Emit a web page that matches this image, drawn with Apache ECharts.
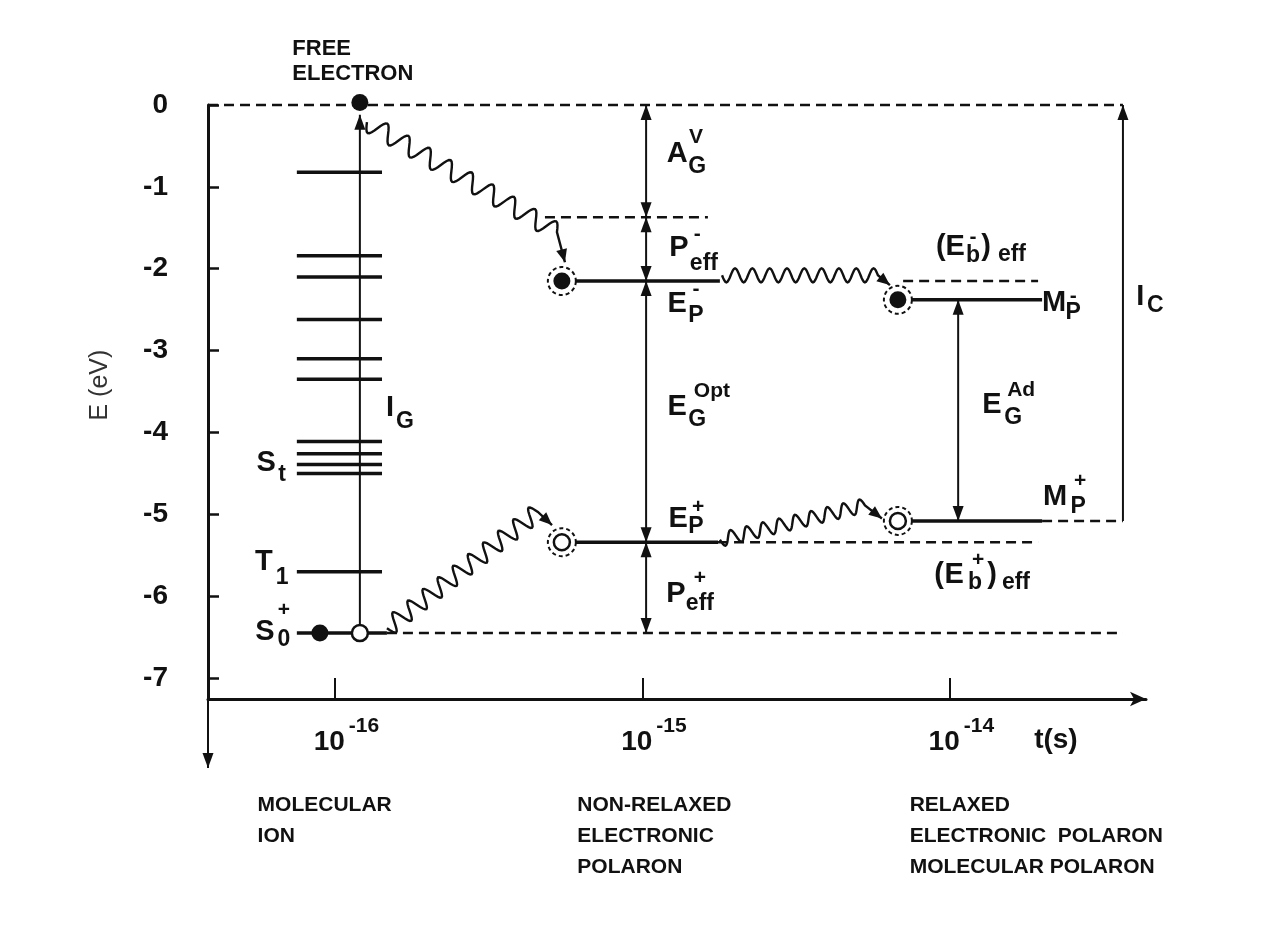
<!DOCTYPE html>
<html><head><meta charset="utf-8">
<script src="https://cdn.jsdelivr.net/npm/echarts@6/dist/echarts.min.js"></script>
<style>html,body{margin:0;padding:0;background:#fff}#c{width:1284px;height:927px}</style>
</head><body><div id="c"></div>
<script>
// ---------- data (x = log10(t / s), y = E in eV) ----------
const xRange = [-16.413, -13.362];
const yRange = [-7.255, 0];
const xTicks = [-16, -15, -14];
const yTicks = [0, -1, -2, -3, -4, -5, -6, -7];

// molecular ion excited levels (S_t group, T_1)
const ionLevelX = [-16.124, -15.847];
const ionLevels = [-0.82, -1.84, -2.10, -2.62, -3.10, -3.35, -4.11, -4.26, -4.39, -4.50, -5.70];

// solid level segments [x1, y1, x2, y2]
const solidLines = [
  [-16.124, -6.45, -15.831, -6.45],   // S0+
  [-15.219, -2.15, -14.748, -2.15],   // Ep-
  [-15.219, -5.34, -14.754, -5.34],   // Ep+
  [-14.123, -2.38, -13.700, -2.38],   // Mp-
  [-14.123, -5.08, -13.700, -5.08]    // Mp+
];
// dashed reference lines [x1, y1, x2, y2]
const dashedLines = [
  [-16.413, 0, -13.437, 0],
  [-15.317, -1.37, -14.787, -1.37],
  [-14.152, -2.15, -13.713, -2.15],
  [-14.754, -5.34, -13.713, -5.34],
  [-13.700, -5.08, -13.437, -5.08],
  [-15.831, -6.45, -13.437, -6.45]
];
// single-headed arrows [x1, y1, x2, y2] (head at end)
const singleArrows = [
  [-15.919, -6.45, -15.919, -0.12],    // I_G
  [-13.437, -5.08, -13.437, 0],        // I_C
  [-16.413, -7.255, -16.413, -8.098]   // E axis continuation
];
// double-headed arrows [x1, y1, x2, y2]
const doubleArrows = [
  [-14.988, -1.37, -14.988, 0],        // A_G^V
  [-14.988, -2.15, -14.988, -1.37],    // P_eff^-
  [-14.988, -5.34, -14.988, -2.15],    // E_G^Opt
  [-14.988, -6.45, -14.988, -5.34],    // P_eff^+
  [-13.973, -5.08, -13.973, -2.38]     // E_G^Ad
];
// wavy relaxation arrows [xStart, yStart, xWaveEnd, yWaveEnd, xTip, yTip]
const waves = [
  [-15.896, -0.21, -15.278, -1.553, -15.252, -1.92],
  [-14.741, -2.08, -14.234, -2.08, -14.195, -2.20],
  [-15.831, -6.39, -15.340, -4.97, -15.294, -5.13],
  [-14.748, -5.31, -14.276, -4.89, -14.221, -5.05]
];
const filledDots = [[-15.919, 0.03], [-16.049, -6.45]];
const openDots = [[-15.919, -6.45]];
const polaronFilled = [[-15.262, -2.15], [-14.169, -2.38]];
const polaronOpen = [[-15.262, -5.34], [-14.169, -5.08]];

// symbol texts [x, y, text, kind]
const symbolTexts = [
  [-14.887, -0.602, 'A', 'main'], [-14.822, -0.759, 'G', 'sub'], [-14.826, -0.394, 'V', 'sup'],
  [-14.881, -1.751, 'P', 'main'], [-14.800, -1.934, 'eff', 'sub'], [-14.822, -1.578, '-', 'sup'],
  [-14.887, -2.433, 'E', 'main'], [-14.826, -2.579, 'P', 'sub'], [-14.826, -2.250, '-', 'sup'],
  [-14.887, -3.691, 'E', 'main'], [-14.822, -3.838, 'G', 'sub'], [-14.774, -3.496, 'Opt', 'sup'],
  [-14.884, -5.057, 'E', 'main'], [-14.826, -5.155, 'P', 'sub'], [-14.819, -4.911, '+', 'sup'],
  [-14.891, -5.973, 'P', 'main'], [-14.813, -6.096, 'eff', 'sub'], [-14.813, -5.778, '+', 'sup'],
  [-14.029, -1.736, '(', 'main'], [-13.983, -1.736, 'E', 'main'], [-13.925, -1.834, 'b', 'sub'],
  [-13.925, -1.614, '-', 'sup'], [-13.882, -1.736, ')', 'main'], [-13.798, -1.822, 'eff', 'sub'],
  [-13.661, -2.420, 'M', 'main'], [-13.599, -2.542, 'P', 'sub'], [-13.599, -2.335, '-', 'sup'],
  [-13.863, -3.667, 'E', 'main'], [-13.794, -3.814, 'G', 'sub'], [-13.768, -3.482, 'Ad', 'sup'],
  [-13.658, -4.789, 'M', 'main'], [-13.583, -4.911, 'P', 'sub'], [-13.576, -4.594, '+', 'sup'],
  [-14.035, -5.741, '(', 'main'], [-13.986, -5.741, 'E', 'main'], [-13.918, -5.839, 'b', 'sub'],
  [-13.908, -5.558, '+', 'sup'], [-13.863, -5.741, ')', 'main'], [-13.785, -5.839, 'eff', 'sub'],
  [-13.381, -2.350, 'I', 'main'], [-13.332, -2.448, 'C', 'sub'],
  [-15.821, -3.706, 'I', 'main'], [-15.772, -3.865, 'G', 'sub'],
  [-16.224, -4.374, 'S', 'main'], [-16.172, -4.520, 't', 'sub'],
  [-16.231, -5.583, 'T', 'main'], [-16.172, -5.778, '1', 'sub'],
  [-16.228, -6.437, 'S', 'main'], [-16.166, -6.535, '0', 'sub'], [-16.166, -6.169, '+', 'sup'],
  [-13.655, -7.757, 't(s)', 'unit']
];
// captions [x, yTop, text]
const captions = [
  [-16.137, 0.828, 'FREE\nELECTRON'],
  [-16.250, -8.366, 'MOLECULAR\nION'],
  [-15.210, -8.366, 'NON-RELAXED\nELECTRONIC\nPOLARON'],
  [-14.129, -8.366, 'RELAXED\nELECTRONIC  POLARON\nMOLECULAR POLARON']
];
const yAxisTitle = [-16.764, -3.421, 'E (eV)'];

// ---------- styling & rendering ----------
const ink = '#111';
const font = "'Liberation Sans', Arial, Helvetica, sans-serif";
const textSize = { main: 29, sub: 23, sup: 21, unit: 28 };

function arrowHead(tip, from, L, W) {
  const dx = tip[0] - from[0], dy = tip[1] - from[1];
  const len = Math.hypot(dx, dy) || 1;
  const ux = dx / len, uy = dy / len;
  const bx = tip[0] - ux * L, by = tip[1] - uy * L;
  return { type: 'polygon', shape: { points: [[tip[0], tip[1]], [bx - uy * W, by + ux * W], [bx + uy * W, by - ux * W]] }, style: { fill: ink } };
}
function segSeries(data, width, dash, heads, z) {
  return {
    type: 'custom', coordinateSystem: 'cartesian2d', clip: false, silent: true, z: z,
    encode: { x: [0, 2], y: [1, 3] }, data: data,
    renderItem: function (params, api) {
      const a = api.coord([api.value(0), api.value(1)]);
      const b = api.coord([api.value(2), api.value(3)]);
      const ch = [{ type: 'line', shape: { x1: a[0], y1: a[1], x2: b[0], y2: b[1] },
        style: { stroke: ink, lineWidth: width, lineDash: dash } }];
      if (heads >= 1) ch.push(arrowHead(b, a, 15, 5.5));
      if (heads >= 2) ch.push(arrowHead(a, b, 15, 5.5));
      return { type: 'group', children: ch };
    }
  };
}
// wavy-arrow drawing style: [wavelength px, amplitude px]
const waveShape = [[25, 9], [18, 7], [20, 9], [16, 7]];

const levelSegs = ionLevels.map(e => [ionLevelX[0], e, ionLevelX[1], e]);

const textData = symbolTexts.map(t => ({
  value: [t[0], t[1]],
  label: { show: true, position: 'inside', formatter: t[2], fontSize: textSize[t[3]], fontWeight: 'bold',
    color: ink, fontFamily: font, align: 'center', verticalAlign: 'middle', opacity: 1 }
})).concat(captions.map(c => ({
  value: [c[0], c[1]],
  label: { show: true, position: [0, 0], formatter: c[2], fontSize: c[2].indexOf('FREE') === 0 ? 22 : 21,
    lineHeight: c[2].indexOf('FREE') === 0 ? 25 : 31, fontWeight: 'bold',
    color: ink, fontFamily: font, align: 'left', verticalAlign: 'top', opacity: 1 }
}))).concat([{
  value: [yAxisTitle[0], yAxisTitle[1]],
  label: { show: true, position: 'inside', formatter: yAxisTitle[2], fontSize: 25, rotate: 90,
    color: '#333', fontFamily: font, align: 'center', verticalAlign: 'middle', opacity: 1 }
}]);

const option = {
  animation: false,
  backgroundColor: '#fff',
  grid: { left: 208, right: 138, top: 105, bottom: 228 },
  xAxis: {
    type: 'value', min: xRange[0], max: xRange[1],
    axisLine: { onZero: false, lineStyle: { color: ink, width: 3 }, symbol: ['none', 'arrow'], symbolSize: [11, 16] },
    axisTick: { inside: true, length: 21, customValues: xTicks, lineStyle: { color: ink, width: 2 } },
    axisLabel: {
      customValues: xTicks, margin: 17, padding: [0, 0, 0, 23], color: ink,
      formatter: v => '{b|10}{s|' + Math.round(v) + '}',
      rich: {
        b: { fontSize: 28, lineHeight: 52, verticalAlign: 'middle', fontFamily: font, fontWeight: 'bold', color: ink },
        s: { fontSize: 21, lineHeight: 16, verticalAlign: 'top', fontFamily: font, fontWeight: 'bold', color: ink, padding: [0, 0, 0, 4] }
      }
    },
    splitLine: { show: false }
  },
  yAxis: {
    type: 'value', min: yRange[0], max: yRange[1],
    axisLine: { onZero: false, lineStyle: { color: ink, width: 3 } },
    axisTick: { inside: true, length: 11, customValues: yTicks, lineStyle: { color: ink, width: 2.5 } },
    axisLabel: { customValues: yTicks, margin: 40, fontSize: 28, fontWeight: 'bold', color: ink, fontFamily: font },
    splitLine: { show: false }
  },
  series: [
    segSeries(levelSegs, 3.5, null, 0, 3),
    segSeries(solidLines, 3.5, null, 0, 3),
    segSeries(dashedLines, 2.5, [10, 6], 0, 2),
    segSeries(singleArrows, 2, null, 1, 3),
    segSeries(doubleArrows, 2, null, 2, 3),
    {
      type: 'custom', coordinateSystem: 'cartesian2d', clip: false, silent: true, z: 3,
      encode: { x: [0, 2, 4], y: [1, 3, 5] }, data: waves,
      renderItem: function (params, api) {
        const i = params.dataIndex;
        const p0 = api.coord([api.value(0), api.value(1)]);
        const p1 = api.coord([api.value(2), api.value(3)]);
        const p2 = api.coord([api.value(4), api.value(5)]);
        const wl = waveShape[i][0], amp = waveShape[i][1];
        const dx = p1[0] - p0[0], dy = p1[1] - p0[1];
        const L = Math.hypot(dx, dy);
        const n = Math.max(1, Math.round(L / wl));
        const nx = -dy / L, ny = dx / L;
        const pts = [];
        const steps = n * 16;
        for (let k = 0; k <= steps; k++) {
          const t = k / steps;
          const s = Math.sin(2 * Math.PI * n * t) * amp;
          pts.push([p0[0] + dx * t + nx * s, p0[1] + dy * t + ny * s]);
        }
        pts.push(p2);
        return { type: 'group', children: [
          { type: 'polyline', shape: { points: pts }, style: { stroke: ink, lineWidth: 2.4, fill: null } },
          arrowHead(p2, p1, 13, 5.5)
        ] };
      }
    },
    { type: 'scatter', data: polaronFilled.concat(polaronOpen), symbol: 'circle', symbolSize: 28, z: 5, silent: true, clip: false,
      itemStyle: { color: '#fff', borderColor: ink, borderWidth: 2, borderType: [4, 3], opacity: 1 } },
    { type: 'scatter', data: polaronFilled.concat(filledDots), symbol: 'circle', symbolSize: 17, z: 6, silent: true, clip: false,
      itemStyle: { color: ink, opacity: 1 } },
    { type: 'scatter', data: polaronOpen.concat(openDots), symbol: 'circle', symbolSize: 16, z: 6, silent: true, clip: false,
      itemStyle: { color: '#fff', borderColor: ink, borderWidth: 2.5, opacity: 1 } },
    { type: 'scatter', data: textData, symbolSize: 1, z: 7, silent: true, clip: false,
      itemStyle: { color: 'rgba(0,0,0,0)', opacity: 1 }, labelLayout: { hideOverlap: false } }
  ]
};
const chart = echarts.init(document.getElementById('c'), null, { renderer: 'canvas' });
chart.setOption(option);
</script>
</body></html>
